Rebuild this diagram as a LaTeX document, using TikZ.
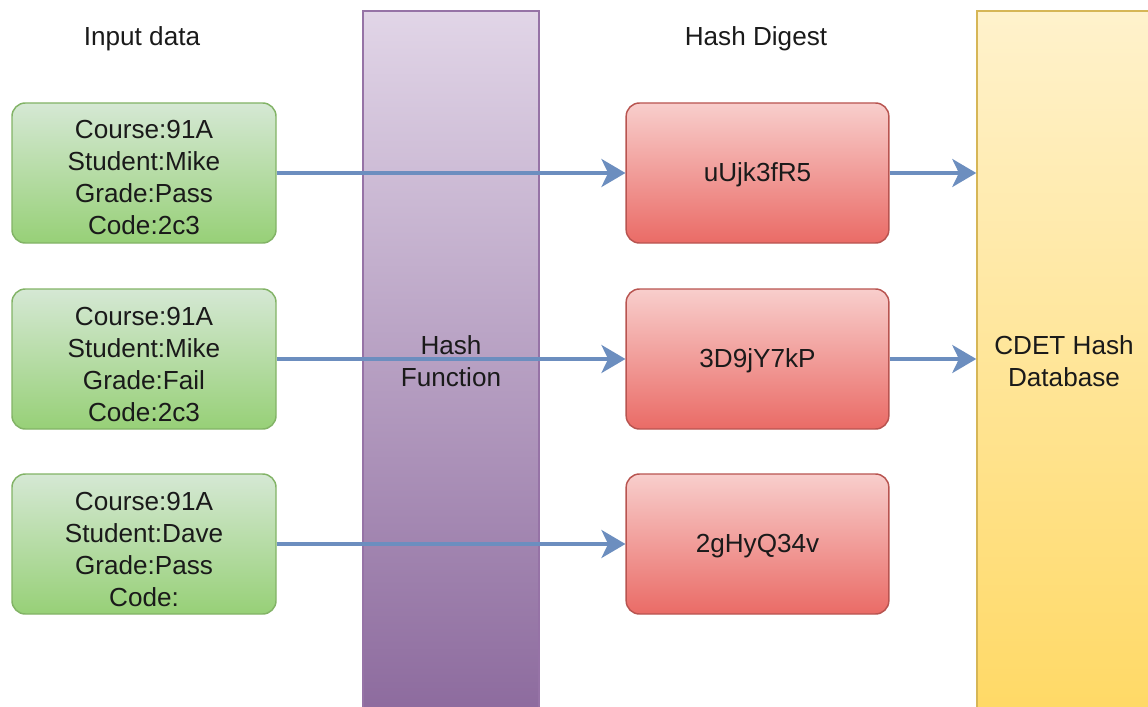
\documentclass[tikz,border=0pt]{standalone}
\usepackage{fontspec}
\setmainfont{Liberation Sans}
\usetikzlibrary{arrows.meta}
\definecolor{grTop}{HTML}{D5E8D4}
\definecolor{grBot}{HTML}{97D077}
\definecolor{grLine}{HTML}{82B366}
\definecolor{rdTop}{HTML}{F8CECC}
\definecolor{rdBot}{HTML}{EA6B66}
\definecolor{rdLine}{HTML}{B85450}
\definecolor{puTop}{HTML}{E1D5E7}
\definecolor{puBot}{HTML}{8D6B9E}
\definecolor{puLine}{HTML}{9673A6}
\definecolor{ylTop}{HTML}{FFF2CC}
\definecolor{ylBot}{HTML}{FFD966}
\definecolor{ylLine}{HTML}{D6B656}
\definecolor{arr}{HTML}{6C8EBF}
\definecolor{txt}{HTML}{1A1A1A}
\begin{document}
\begin{tikzpicture}[x=0.75pt,y=-0.75pt,
  every node/.style={font=\fontsize{19.6}{24}\selectfont, text=txt, align=center},
  inbox/.style={draw=grLine, line width=1.1pt, rounded corners=10pt, top color=grTop, bottom color=grBot, minimum width=198pt, minimum height=105pt, inner sep=0pt},
  hashbox/.style={draw=rdLine, line width=1.1pt, rounded corners=10pt, top color=rdTop, bottom color=rdBot, minimum width=197pt, minimum height=105pt, inner sep=0pt},
  colbox/.style={line width=1.1pt, minimum height=525pt, inner sep=0pt},
  lbl/.style={inner sep=0pt},
  flow/.style={draw=arr, line width=2.6pt, -{Stealth[length=18pt,width=21pt,inset=5pt]}}
]
\useasboundingbox (0,0) rectangle (1148,706);
\begin{scope}
\clip (0,0) rectangle (1148,706);
\node[colbox, draw=puLine, top color=puTop, bottom color=puBot, minimum width=132pt] (hf) at (451,361) {};
\node[colbox, draw=ylLine, top color=ylTop, bottom color=ylBot, minimum width=130.5pt] (db) at (1064,361) {};
\end{scope}
\node[lbl] (h1) at (142,39) {Input data};
\node[lbl] (h2) at (756,39) {Hash Digest};
\node[inbox] (g1) at (144,173) {};
\node[inbox] (g2) at (144,359) {};
\node[inbox] (g3) at (144,544) {};
\node[hashbox] (r1) at (757.5,173) {};
\node[hashbox] (r2) at (757.5,359) {};
\node[hashbox] (r3) at (757.5,544) {};
\coordinate (d1) at (db.west |- r1.east);
\coordinate (d2) at (db.west |- r2.east);
\draw[flow] (g1.east) -- (r1.west);
\draw[flow] (g2.east) -- (r2.west);
\draw[flow] (g3.east) -- (r3.west);
\draw[flow] (r1.east) -- (d1);
\draw[flow] (r2.east) -- (d2);
\node[lbl] (hft) at (451,361) {Hash\\Function};
\node[lbl] (dbt) at (1064,361) {CDET Hash\\Database};
\node[lbl] (g1t) at (144,178) {Course:91A\\Student:Mike\\Grade:Pass\\Code:2c3};
\node[lbl] (g2t) at (144,364) {Course:91A\\Student:Mike\\Grade:Fail\\Code:2c3};
\node[lbl] (g3t) at (144,549) {Course:91A\\Student:Dave\\Grade:Pass\\Code:};
\node[lbl] (r1t) at (757.5,175) {uUjk3fR5};
\node[lbl] (r2t) at (757.5,361) {3D9jY7kP};
\node[lbl] (r3t) at (757.5,546) {2gHyQ34v};
\end{tikzpicture}
\end{document}
